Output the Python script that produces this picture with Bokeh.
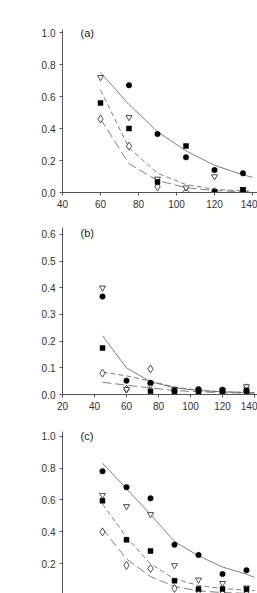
import math
from bokeh.plotting import figure
from bokeh.layouts import column
from bokeh.models import Label, Range1d, FixedTicker, NumeralTickFormatter
from bokeh.embed import file_html
from bokeh.resources import INLINE

nan = float("nan")

# ---------------- data ----------------
# Panel (a)
a_x = [60, 75, 90, 105, 120, 135]
a_circle = [nan, 0.67, 0.365, 0.22, 0.14, 0.12]
a_tri = [0.72, 0.47, 0.085, 0.03, 0.10, 0.02]
a_square = [0.56, 0.40, 0.065, 0.29, 0.005, 0.015]
a_diamond = [0.46, 0.29, 0.035, 0.005, 0.005, 0.005]
a_fit_x = [60, 75, 90, 105, 120, 135, 140]
a_fit_solid = [0.75, 0.55, 0.38, 0.26, 0.17, 0.11, 0.095]
a_fit_dash = [0.64, 0.28, 0.12, 0.05, 0.02, 0.01, 0.008]
a_fit_longdash = [0.46, 0.18, 0.075, 0.03, 0.012, 0.005, 0.004]
a_xticks = [40, 60, 80, 100, 120, 140]
a_yticks = [0.0, 0.2, 0.4, 0.6, 0.8, 1.0]

# Panel (b)
b_x = [45, 60, 75, 90, 105, 120, 135]
b_circle = [0.367, 0.052, 0.044, 0.015, 0.02, 0.018, 0.015]
b_tri = [0.40, 0.02, 0.035, 0.02, 0.015, 0.015, 0.03]
b_square = [0.174, nan, 0.012, 0.005, 0.01, 0.01, 0.012]
b_diamond = [0.08, 0.02, 0.096, 0.01, 0.012, 0.012, 0.025]
b_fit_x = [45, 60, 75, 90, 105, 120, 135, 140]
b_fit_solid = [0.22, 0.10, 0.048, 0.025, 0.015, 0.01, 0.008, 0.007]
b_fit_dash = [0.084, 0.07, 0.05, 0.028, 0.016, 0.01, 0.007, 0.006]
b_fit_longdash = [0.046, 0.035, 0.025, 0.015, 0.01, 0.007, 0.005, 0.005]
b_xticks = [20, 40, 60, 80, 100, 120, 140]
b_yticks = [0.0, 0.1, 0.2, 0.3, 0.4, 0.5, 0.6]

# Panel (c)
c_x = [45, 60, 75, 90, 105, 120, 135]
c_circle = [0.78, 0.68, 0.61, 0.32, 0.255, 0.136, 0.16]
c_tri = [0.63, 0.56, 0.51, 0.19, 0.10, 0.078, 0.05]
c_square = [0.595, 0.35, 0.28, 0.094, 0.042, 0.042, 0.04]
c_diamond = [0.40, 0.19, 0.17, 0.046, 0.03, 0.015, 0.015]
c_fit_x = [45, 60, 75, 90, 105, 120, 135, 140]
c_fit_solid = [0.83, 0.67, 0.51, 0.34, 0.25, 0.18, 0.135, 0.115]
c_fit_dash = [0.575, 0.365, 0.20, 0.105, 0.065, 0.045, 0.035, 0.033]
c_fit_longdash = [0.42, 0.23, 0.12, 0.058, 0.03, 0.02, 0.015, 0.013]
c_xticks = [20, 40, 60, 80, 100, 120, 140]
c_yticks = [0.0, 0.2, 0.4, 0.6, 0.8, 1.0]

FONT = "Liberation Sans"
AXIS_COLOR = "#555555"
TEXT_COLOR = "#333333"
LINE_COLOR = "#707070"


def make_panel(xr, yr, xticks, yticks, x, circ, tri, sq, dia, fx, fs, fd, fl,
               label, label_pos, top, frame_h, bottom, show_x=True):
    p = figure(width=257, height=top + frame_h + bottom,
               x_range=Range1d(*xr), y_range=Range1d(*yr),
               output_backend="svg", toolbar_location=None,
               min_border_left=62, min_border_right=0,
               min_border_top=top, min_border_bottom=bottom)
    p.outline_line_color = None
    p.grid.visible = False
    p.background_fill_color = "white"
    p.border_fill_color = "white"
    for ax in (p.xaxis[0], p.yaxis[0]):
        ax.axis_line_color = AXIS_COLOR
        ax.axis_line_width = 1
        ax.major_tick_line_color = AXIS_COLOR
        ax.major_tick_in = 0
        ax.major_tick_out = 3
        ax.minor_tick_line_color = None
        ax.major_label_text_font = FONT
        ax.major_label_text_font_size = "10px"
        ax.major_label_text_color = TEXT_COLOR
        ax.major_label_standoff = 4
    p.xaxis.ticker = FixedTicker(ticks=xticks)
    p.yaxis.ticker = FixedTicker(ticks=yticks)
    p.yaxis.formatter = NumeralTickFormatter(format="0.0")
    p.xaxis.visible = show_x

    p.line(fx, fs, line_color=LINE_COLOR, line_width=0.9)
    p.line(fx, fd, line_color=LINE_COLOR, line_width=0.9, line_dash="5 3")
    p.line(fx, fl, line_color=LINE_COLOR, line_width=0.9, line_dash="9 4")

    p.scatter(x, dia, marker="diamond", size=8, fill_color="white",
              line_color="#222222", line_width=0.8)
    p.scatter(x, tri, marker="inverted_triangle", size=6, fill_color="white",
              line_color="#222222", line_width=0.8)
    p.scatter(x, sq, marker="square", size=5, fill_color="black",
              line_color="black", line_width=0.5)
    p.scatter(x, circ, marker="circle", size=5.5, fill_color="black",
              line_color="black", line_width=0.5)

    p.add_layout(Label(x=label_pos[0], y=label_pos[1], text=label,
                       text_font=FONT, text_font_size="11px",
                       text_color="#222222", text_baseline="middle"))
    return p


pa = make_panel((40, 40 + 195 / 1.9), (0, 163 / 160.0), a_xticks, a_yticks,
                a_x, a_circle, a_tri, a_square, a_diamond,
                a_fit_x, a_fit_solid, a_fit_dash, a_fit_longdash,
                "(a)", (49.5, 0.997), 29, 163, 33)

pb = make_panel((20, 20 + 195 / 1.6), (0, 167 / 266.7), b_xticks, b_yticks,
                b_x, b_circle, b_tri, b_square, b_diamond,
                b_fit_x, b_fit_solid, b_fit_dash, b_fit_longdash,
                "(b)", (31.25, 0.604), 2, 167, 33)

pb.add_layout(Label(x=20 - (62 - 9) / 1.6, y=(394 - 324) / 266.7,
                    text="Transmittance", angle=math.pi / 2,
                    text_font=FONT, text_font_size="14px",
                    text_color="#222222", text_align="center",
                    text_baseline="middle"))

pc = make_panel((20, 20 + 195 / 1.6), (0.014, 1.029), c_xticks, c_yticks,
                c_x, c_circle, c_tri, c_square, c_diamond,
                c_fit_x, c_fit_solid, c_fit_dash, c_fit_longdash,
                "(c)", (31.25, 1.003), 4, 162, 0, show_x=False)

layout = column(pa, pb, pc, spacing=0)

open("out.html", "w").write(file_html(layout, INLINE))
